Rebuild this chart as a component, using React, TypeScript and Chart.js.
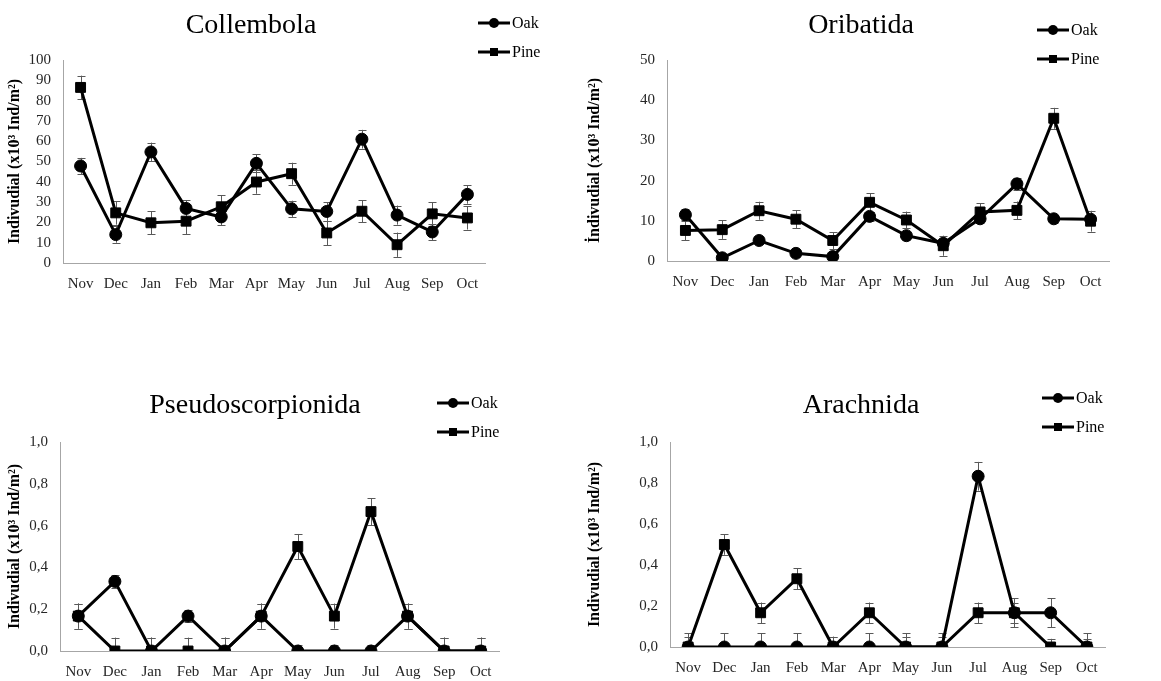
import React, { useEffect, useRef } from "react";
import { Chart, registerables } from "chart.js";

Chart.register(...registerables);

const months = ["Nov", "Dec", "Jan", "Feb", "Mar", "Apr", "May", "Jun", "Jul", "Aug", "Sep", "Oct"];
const seriesNames = ["Oak", "Pine"];

const collembolaOak = [47.8, 14, 54.7, 26.9, 22.7, 49.1, 26.7, 25.4, 61, 23.6, 15.3, 33.8];
const collembolaOakErr = [4, 4, 4.6, 4, 4, 4.4, 4, 4.6, 4.6, 4.7, 4, 4.6];
const collembolaPine = [86.5, 24.7, 19.8, 20.6, 27.7, 39.9, 44, 14.8, 25.5, 9, 24.2, 22.2];
const collembolaPineErr = [5.8, 5.8, 5.6, 6.3, 5.7, 5.8, 5.4, 6.1, 5.5, 6, 5.8, 5.7];

const oribatidaOak = [11.5, 0.8, 5.1, 1.9, 1.1, 11.1, 6.3, 4.4, 10.5, 19.2, 10.5, 10.4];
const oribatidaOakErr = [1.5, 0.5, 0.8, 0.8, 0.5, 1.2, 1, 1, 1, 1.5, 1, 1];
const oribatidaPine = [7.6, 7.8, 12.5, 10.4, 5.1, 14.6, 10.2, 3.8, 12.2, 12.6, 35.5, 9.9];
const oribatidaPineErr = [2.5, 2.3, 2.25, 2.2, 2.1, 2.3, 2.1, 2.5, 2.2, 2.2, 2.6, 2.6];

const pseudoOak = [0.167, 0.333, 0, 0.167, 0, 0.167, 0, 0, 0, 0.167, 0, 0];
const pseudoOakErr = [0.06, 0.03, 0.064, 0.03, 0.064, 0.06, 0.03, 0.03, 0.03, 0.06, 0.064, 0.064];
const pseudoPine = [0.167, 0, 0, 0, 0, 0.167, 0.5, 0.167, 0.667, 0.167, 0, 0];
const pseudoPineErr = [0.06, 0.064, 0.064, 0.064, 0.064, 0.06, 0.06, 0.06, 0.065, 0.06, 0.064, 0.064];

const arachOak = [0, 0, 0, 0, 0, 0, 0, 0, 0.833, 0.167, 0.167, 0];
const arachOakErr = [0.067, 0.067, 0.067, 0.067, 0.05, 0.067, 0.067, 0.067, 0.07, 0.07, 0.07, 0.067];
const arachPine = [0, 0.5, 0.167, 0.333, 0, 0.167, 0, 0, 0.167, 0.167, 0, 0];
const arachPineErr = [0.05, 0.05, 0.05, 0.05, 0.05, 0.05, 0.05, 0.05, 0.05, 0.05, 0.04, 0.04];

const FONT = "'Liberation Serif', 'Times New Roman', serif";

const errorBarPlugin = {
  id: "errorBars",
  beforeDatasetsDraw(chart: any, _args: any, opts: any) {
    const errs: number[][] = opts.errors || [];
    const ctx = chart.ctx;
    const ys = chart.scales.y;
    const area = chart.chartArea;
    ctx.save();
    ctx.beginPath();
    ctx.rect(area.left, area.top - 1, area.right - area.left, area.bottom - area.top + 1);
    ctx.clip();
    ctx.strokeStyle = "#595959";
    ctx.lineWidth = 1;
    chart.data.datasets.forEach((ds: any, i: number) => {
      const meta = chart.getDatasetMeta(i);
      const e = errs[i];
      if (!e) return;
      meta.data.forEach((pt: any, j: number) => {
        const v = ds.data[j];
        const x = Math.round(pt.x) + 0.5;
        const yTop = ys.getPixelForValue(v + e[j]);
        const yBot = ys.getPixelForValue(v - e[j]);
        ctx.beginPath();
        ctx.moveTo(x, yTop);
        ctx.lineTo(x, yBot);
        ctx.moveTo(x - 4, Math.round(yTop) + 0.5);
        ctx.lineTo(x + 4, Math.round(yTop) + 0.5);
        ctx.moveTo(x - 4, Math.round(yBot) + 0.5);
        ctx.lineTo(x + 4, Math.round(yBot) + 0.5);
        ctx.stroke();
      });
    });
    ctx.restore();
  },
};

const titleLegendPlugin = {
  id: "titleLegend",
  afterDraw(chart: any, _args: any, opts: any) {
    const ctx = chart.ctx;
    ctx.save();
    ctx.fillStyle = "#000";
    ctx.font = `28px ${FONT}`;
    ctx.textAlign = "center";
    ctx.textBaseline = "alphabetic";
    ctx.fillText(opts.title, opts.titleX, opts.titleY);
    ctx.font = `16px ${FONT}`;
    ctx.textAlign = "left";
    ctx.textBaseline = "middle";
    chart.data.datasets.forEach((ds: any, i: number) => {
      const y = opts.legendY[i];
      const x0 = opts.legendX;
      ctx.strokeStyle = "#000";
      ctx.lineWidth = 3;
      ctx.beginPath();
      ctx.moveTo(x0, y);
      ctx.lineTo(x0 + 32, y);
      ctx.stroke();
      ctx.fillStyle = "#000";
      if (ds.pointStyle === "circle") {
        ctx.beginPath();
        ctx.arc(x0 + 16, y, 5, 0, Math.PI * 2);
        ctx.fill();
      } else {
        ctx.fillRect(x0 + 12, y - 4, 8, 8);
      }
      ctx.fillText(ds.label, x0 + 34, y + 1);
    });
    ctx.restore();
  },
};

type PanelDef = {
  left: number;
  top: number;
  width: number;
  height: number;
  area: { l: number; t: number; r: number; b: number };
  title: string;
  titleX: number;
  titleY: number;
  legendX: number;
  legendY: number[];
  yTitle: string;
  yMax: number;
  yStep: number;
  decimal: boolean;
  oak: number[];
  oakErr: number[];
  pine: number[];
  pineErr: number[];
};

const panels: PanelDef[] = [
  {
    left: 0, top: 0, width: 580, height: 300,
    area: { l: 63, t: 60, r: 485, b: 263 },
    title: "Collembola", titleX: 251, titleY: 33,
    legendX: 478, legendY: [23, 52],
    yTitle: "Indivudial (x10³ Ind/m²)", yMax: 100, yStep: 10, decimal: false,
    oak: collembolaOak, oakErr: collembolaOakErr, pine: collembolaPine, pineErr: collembolaPineErr,
  },
  {
    left: 580, top: 0, width: 581, height: 300,
    area: { l: 87, t: 60, r: 529, b: 261 },
    title: "Oribatida", titleX: 281, titleY: 33,
    legendX: 457, legendY: [30, 59],
    yTitle: "İndivudial (x10³ Ind/m²)", yMax: 50, yStep: 10, decimal: false,
    oak: oribatidaOak, oakErr: oribatidaOakErr, pine: oribatidaPine, pineErr: oribatidaPineErr,
  },
  {
    left: 0, top: 380, width: 580, height: 301,
    area: { l: 60, t: 62, r: 499, b: 271 },
    title: "Pseudoscorpionida", titleX: 255, titleY: 33,
    legendX: 437, legendY: [23, 52],
    yTitle: "Indivudial (x10³ Ind/m²)", yMax: 1, yStep: 0.2, decimal: true,
    oak: pseudoOak, oakErr: pseudoOakErr, pine: pseudoPine, pineErr: pseudoPineErr,
  },
  {
    left: 580, top: 380, width: 581, height: 301,
    area: { l: 90, t: 62, r: 525, b: 267 },
    title: "Arachnida", titleX: 281, titleY: 33,
    legendX: 462, legendY: [18, 47],
    yTitle: "Indivudial (x10³ Ind/m²)", yMax: 1, yStep: 0.2, decimal: true,
    oak: arachOak, oakErr: arachOakErr, pine: arachPine, pineErr: arachPineErr,
  },
];

function Panel({ p }: { p: PanelDef }) {
  const ref = useRef<HTMLCanvasElement>(null);
  useEffect(() => {
    if (!ref.current) return;
    const xAxisH = 30;
    const chart = new Chart(ref.current, {
      type: "line",
      data: {
        labels: months,
        datasets: [
          {
            label: seriesNames[0],
            data: p.oak,
            borderColor: "#000",
            backgroundColor: "#000",
            borderWidth: 3,
            pointStyle: "circle",
            pointRadius: 6,
            pointBorderWidth: 1,
            pointBackgroundColor: "#000",
            pointBorderColor: "#000",
            tension: 0,
          },
          {
            label: seriesNames[1],
            data: p.pine,
            borderColor: "#000",
            backgroundColor: "#000",
            borderWidth: 3,
            pointStyle: "rect",
            pointRadius: 7,
            pointBorderWidth: 1,
            pointBackgroundColor: "#000",
            pointBorderColor: "#000",
            tension: 0,
          },
        ],
      },
      options: {
        animation: false,
        responsive: false,
        devicePixelRatio: 1,
        layout: {
          padding: {
            left: 0,
            top: p.area.t,
            right: p.width - p.area.r,
            bottom: p.height - p.area.b - xAxisH,
          },
        },
        plugins: {
          legend: { display: false },
          title: { display: false },
          tooltip: { enabled: false },
          errorBars: { errors: [p.oakErr, p.pineErr] },
          titleLegend: {
            title: p.title,
            titleX: p.titleX,
            titleY: p.titleY,
            legendX: p.legendX,
            legendY: p.legendY,
          },
        } as any,
        scales: {
          x: {
            offset: true,
            grid: { display: false, drawTicks: false },
            border: { display: true, color: "#a6a6a6", width: 1 },
            ticks: {
              color: "#262626",
              padding: 12,
              font: { family: FONT, size: 15 },
              maxRotation: 0,
              autoSkip: false,
            },
            afterFit: (s: any) => {
              s.height = xAxisH;
            },
          },
          y: {
            min: 0,
            max: p.yMax,
            grid: { display: false, drawTicks: false },
            border: { display: true, color: "#a6a6a6", width: 1 },
            ticks: {
              stepSize: p.yStep,
              autoSkip: false,
              color: "#262626",
              padding: 12,
              font: { family: FONT, size: 15 },
              callback: (v: any) =>
                p.decimal ? Number(v).toFixed(1).replace(".", ",") : String(Math.round(Number(v))),
            },
            title: {
              display: true,
              text: p.yTitle,
              color: "#000",
              font: { family: FONT, size: 16, weight: "bold" },
              padding: { top: 5, bottom: 0 },
            },
            afterFit: (s: any) => {
              s.width = p.area.l;
            },
          },
        },
      },
      plugins: [errorBarPlugin, titleLegendPlugin],
    });
    return () => chart.destroy();
  }, [p]);
  return (
    <canvas
      ref={ref}
      width={p.width}
      height={p.height}
      style={{
        position: "absolute",
        left: p.left,
        top: p.top,
        width: p.width,
        height: p.height,
      }}
    />
  );
}

export default function App() {
  return (
    <div
      style={{
        position: "absolute",
        left: 0,
        top: 0,
        width: 1161,
        height: 681,
        background: "#fff",
        overflow: "hidden",
      }}
    >
      {panels.map((p, i) => (
        <Panel key={i} p={p} />
      ))}
    </div>
  );
}
